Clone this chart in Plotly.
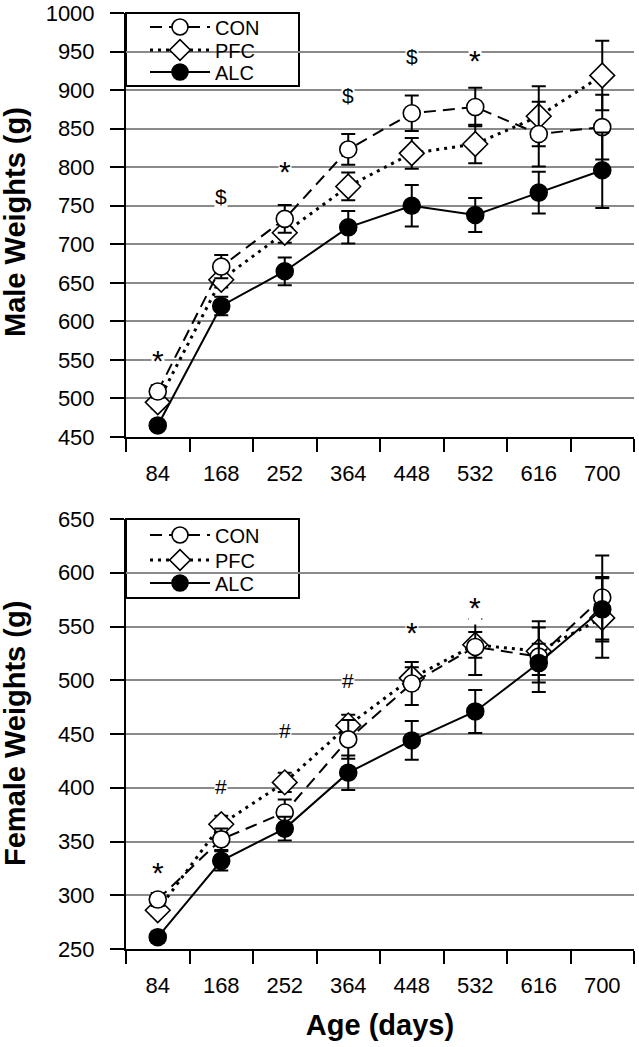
import plotly.graph_objects as go

ages = ["84", "168", "252", "364", "448", "532", "616", "700"]

male_con = [509, 671, 733, 823, 870, 878, 843, 852]
male_con_err = [8, 15, 18, 20, 23, 25, 42, 42]
male_pfc = [495, 654, 715, 775, 818, 830, 866, 919]
male_pfc_err = [8, 10, 13, 18, 20, 25, 39, 45]
male_alc = [465, 620, 665, 722, 750, 738, 767, 796]
male_alc_err = [6, 12, 18, 21, 27, 22, 27, 49]

female_con = [296, 352, 377, 445, 497, 531, 522, 577]
female_con_err = [6, 10, 12, 18, 20, 26, 33, 39]
female_pfc = [286, 366, 405, 458, 502, 533, 527, 558]
female_pfc_err = [5, 8, 9, 10, 10, 12, 22, 37]
female_alc = [261, 332, 362, 414, 444, 471, 516, 566]
female_alc_err = [5, 9, 11, 16, 18, 20, 18, 30]

male_sig_x = ["84", "168", "252", "364", "448", "532"]
male_sig_y = [555, 762, 800, 893, 943, 944]
male_sig_txt = ["*", "$", "*", "$", "$", "*"]

female_sig_x = ["84", "168", "252", "364", "448", "532"]
female_sig_y = [325, 401, 453, 500, 548, 571]
female_sig_txt = ["*", "#", "#", "#", "*", "*"]

FONT = "Liberation Sans, Arial, Helvetica, sans-serif"

# figure geometry (pixels)
W, H = 639, 1047
ML, MR, MT, MB = 126, 5, 13, 98
PW, PH = W - ML - MR, H - MT - MB
TOP_PANEL = (13, 437)     # pixel rows of top plot area
BOT_PANEL = (519, 949)    # pixel rows of bottom plot area


def py(p):
    """pixel row -> paper y"""
    return (H - MB - p) / PH


def px(p):
    """pixel column -> paper x"""
    return (p - ML) / PW


styles = {
    "CON": dict(dash="12px,7px", width=2, symbol="circle", fill="white"),
    "PFC": dict(dash="3px,5px", width=3, symbol="diamond", fill="white"),
    "ALC": dict(dash="solid", width=2, symbol="circle", fill="black"),
}
# one legend per entry so that row spacing matches the original
legend_rows = {
    "top": {"CON": ("legend", 27), "PFC": ("legend2", 50), "ALC": ("legend3", 72)},
    "bot": {"CON": ("legend4", 535), "PFC": ("legend5", 560), "ALC": ("legend6", 583)},
}

fig = go.Figure()


def add(name, y, err, xa, ya, panel):
    s = styles[name]
    fig.add_trace(go.Scatter(
        x=ages, y=y, name=name, mode="lines+markers",
        xaxis=xa, yaxis=ya, legend=legend_rows[panel][name][0],
        line=dict(color="black", width=s["width"], dash=s["dash"]),
        marker=dict(symbol=s["symbol"], size=17 if s["symbol"] == "circle" else 19,
                    color=s["fill"], line=dict(color="black", width=1.6)),
        error_y=dict(type="data", array=err, color="black", thickness=2, width=7),
    ))


for nm, y, e in [("PFC", male_pfc, male_pfc_err), ("CON", male_con, male_con_err),
                 ("ALC", male_alc, male_alc_err)]:
    add(nm, y, e, "x", "y", "top")
for nm, y, e in [("PFC", female_pfc, female_pfc_err), ("CON", female_con, female_con_err),
                 ("ALC", female_alc, female_alc_err)]:
    add(nm, y, e, "x2", "y2", "bot")

annotations = []
for xs, ys, ts, xr, yr in [(male_sig_x, male_sig_y, male_sig_txt, "x", "y"),
                           (female_sig_x, female_sig_y, female_sig_txt, "x2", "y2")]:
    for xv, yv, t in zip(xs, ys, ts):
        star = t == "*"
        annotations.append(dict(
            x=ages.index(xv), y=yv, xref=xr, yref=yr, text=t, showarrow=False,
            font=dict(size=30 if star else 21, color="black", family=FONT),
            bgcolor="white", borderpad=0,
            yshift=-4 if star else 0,
        ))

# axis titles
for txt, p0, p1 in [("Male Weights (g)", 7, 437), ("Female Weights (g)", *BOT_PANEL)]:
    annotations.append(dict(
        text="<b>%s</b>" % txt, textangle=-90, showarrow=False,
        xref="paper", yref="paper", x=px(15), y=py((p0 + p1) / 2),
        xanchor="center", yanchor="middle",
        font=dict(size=29, color="black", family=FONT),
    ))

xcommon = dict(
    type="category", tickson="boundaries", ticks="outside", ticklen=13, tickwidth=2,
    tickcolor="black", showline=True, linecolor="black", linewidth=2, showgrid=False,
    range=[-0.5, 7.5], tickfont=dict(size=22, color="black", family=FONT), zeroline=False,
    automargin=False, ticklabelstandoff=16,
)
ycommon = dict(
    ticks="outside", ticklen=14, tickwidth=2, tickcolor="black", showline=True,
    linecolor="black", linewidth=2, showgrid=True, gridcolor="#8a8a8a", gridwidth=1.6,
    dtick=50, tickfont=dict(size=22, color="black", family=FONT), zeroline=False,
    automargin=False, ticklabelstandoff=11, ticklabeloverflow="allow",
)

legends = {}
for panel in legend_rows.values():
    for nm, (lg, row) in panel.items():
        legends[lg] = dict(
            x=px(145), y=py(row), xanchor="left", yanchor="middle",
            xref="paper", yref="paper",
            bgcolor="rgba(0,0,0,0)", borderwidth=0,
            font=dict(size=20, color="black", family=FONT), itemwidth=60,
        )

shapes = []
for p0, p1 in [(TOP_PANEL[0], 86), (BOT_PANEL[0], 598)]:
    shapes.append(dict(
        type="rect", xref="paper", yref="paper", x0=0, x1=px(299), y0=py(p1), y1=py(p0),
        line=dict(color="black", width=2), fillcolor="white", layer="between",
    ))

fig.update_layout(
    template="none",
    width=W, height=H,
    margin=dict(l=ML, r=MR, t=MT, b=MB, autoexpand=False),
    plot_bgcolor="white", paper_bgcolor="white",
    font=dict(family=FONT, color="black"),
    xaxis=dict(**xcommon, anchor="y", domain=[0, 1]),
    yaxis=dict(**ycommon, range=[450, 1000], domain=[py(TOP_PANEL[1]), 1], anchor="x"),
    xaxis2=dict(**xcommon, anchor="y2", domain=[0, 1],
                title=dict(text="<b>Age (days)</b>", font=dict(size=29, family=FONT), standoff=17)),
    yaxis2=dict(**ycommon, range=[250, 650], domain=[0, py(BOT_PANEL[0])], anchor="x2"),
    annotations=annotations,
    shapes=shapes,
    showlegend=True,
    **legends,
)

fig.write_html("out.html", config={"displayModeBar": False},
               post_script="document.body.style.margin='0px';")
